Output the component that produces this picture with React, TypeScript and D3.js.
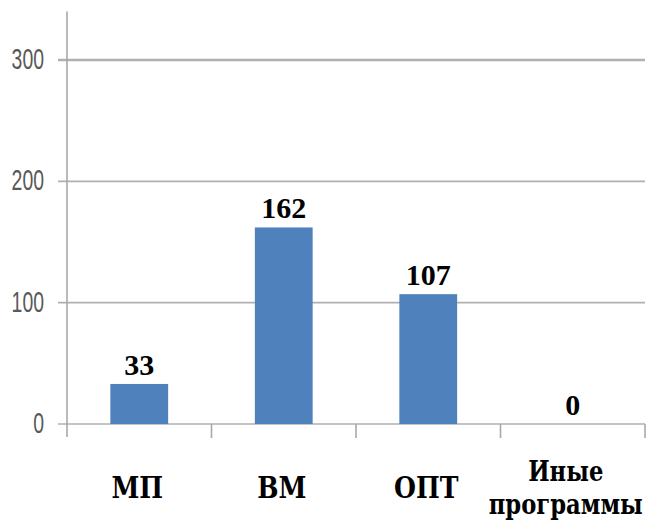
import * as d3 from "d3"
import React, { useRef, useEffect } from 'react';

// chart data
const categories = ["МП", "ВМ", "ОПТ", "Иные программы"];
const values = [33, 162, 107, 0];
const yTicks = [0, 100, 200, 300];

const width = 651;
const height = 526;

const App: React.FC = () => {
    const svgRef = useRef<SVGSVGElement | null>(null);

    useEffect(() => {
        const left = 67;
        const right = 645;
        const zeroY = 424;
        const topY = 60;

        const svg = d3.select(svgRef.current);
        svg.selectAll("*").remove();

        svg.append('rect')
            .attr('width', width)
            .attr('height', height)
            .attr('fill', '#FFFFFF');

        // scales
        const xScale = d3.scaleBand<string>()
            .domain(categories)
            .range([left, right])
            .paddingInner(0.6)
            .paddingOuter(0.3);
        const yScale = d3.scaleLinear()
            .domain([0, 300])
            .range([zeroY, topY]);

        // gridlines (with small ticks left of axis)
        svg.append('g')
            .selectAll('line')
            .data(yTicks)
            .enter()
            .append('line')
            .attr('x1', left - 9)
            .attr('x2', right)
            .attr('y1', (d) => yScale(d))
            .attr('y2', (d) => yScale(d))
            .attr('stroke', '#B0B0B0')
            .attr('stroke-width', (d) => d === 300 ? 2.5 : 1.6);

        // y tick labels (squeezed horizontally like the original)
        svg.append('g')
            .selectAll('text')
            .data(yTicks)
            .enter()
            .append('text')
            .attr('transform', (d) => `translate(44,${yScale(d) - 1}) scale(0.67,1)`)
            .attr('dy', '0.35em')
            .attr('text-anchor', 'end')
            .attr('font-family', '"Liberation Sans", Arial, sans-serif')
            .attr('font-size', 29)
            .attr('fill', '#595959')
            .text((d) => d);

        // y axis line
        svg.append('line')
            .attr('x1', left)
            .attr('x2', left)
            .attr('y1', yScale(340))
            .attr('y2', zeroY + 13)
            .attr('stroke', '#A8A8A8')
            .attr('stroke-width', 1.6);

        // category tick marks (band boundaries)
        const step = xScale.step();
        const boundaries = categories.map((c) => xScale(c)! + xScale.bandwidth() / 2 + step / 2);
        svg.append('g')
            .selectAll('line')
            .data(boundaries)
            .enter()
            .append('line')
            .attr('x1', (d) => d)
            .attr('x2', (d) => d)
            .attr('y1', zeroY)
            .attr('y2', zeroY + 14)
            .attr('stroke', '#A8A8A8')
            .attr('stroke-width', 1.6);

        const data = categories.map((c, i) => ({ label: c, value: values[i] }));

        // bars
        svg.append('g')
            .selectAll('rect')
            .data(data)
            .enter()
            .append('rect')
            .attr('x', (d) => xScale(d.label)!)
            .attr('y', (d) => yScale(d.value))
            .attr('width', xScale.bandwidth())
            .attr('height', (d) => zeroY - yScale(d.value))
            .attr('fill', '#4F81BD');

        const serif = '"Liberation Serif", "DejaVu Serif", serif';
        const cyrSerif = '"DejaVu Serif", "Liberation Serif", serif';

        // value labels
        svg.append('g')
            .selectAll('text')
            .data(data)
            .enter()
            .append('text')
            .attr('x', (d) => xScale(d.label)! + xScale.bandwidth() / 2)
            .attr('y', (d) => yScale(d.value) - 9)
            .attr('text-anchor', 'middle')
            .attr('font-family', serif)
            .attr('font-weight', 'bold')
            .attr('font-size', 30)
            .attr('fill', '#000')
            .text((d) => d.value);

        // category labels (wrapped on spaces, squeezed a little)
        const catLabels = svg.append('g')
            .selectAll('text')
            .data(data)
            .enter()
            .append('text')
            .attr('text-anchor', 'middle')
            .attr('font-family', cyrSerif)
            .attr('font-weight', 'bold')
            .attr('font-size', (d) => d.label.includes(' ') ? 27 : 30)
            .attr('fill', '#000');

        catLabels.each(function (d) {
            const words = d.label.split(' ');
            const lineH = 33;
            const start = -((words.length - 1) * lineH) / 2;
            const cx = xScale(d.label)! + xScale.bandwidth() / 2 - (words.length > 1 ? 7 : 2);
            d3.select(this)
                .attr('transform', `translate(${cx},0) scale(0.84,1)`)
                .selectAll('tspan')
                .data(words)
                .enter()
                .append('tspan')
                .attr('x', 0)
                .attr('y', (_w, i) => 498 + start + i * lineH)
                .text((w) => w);
        });
    }, []);

    return (
        <svg ref={svgRef} width={width} height={height}
            style={{ position: 'absolute', left: 0, top: 0 }}></svg>
    );
};

export default App;
